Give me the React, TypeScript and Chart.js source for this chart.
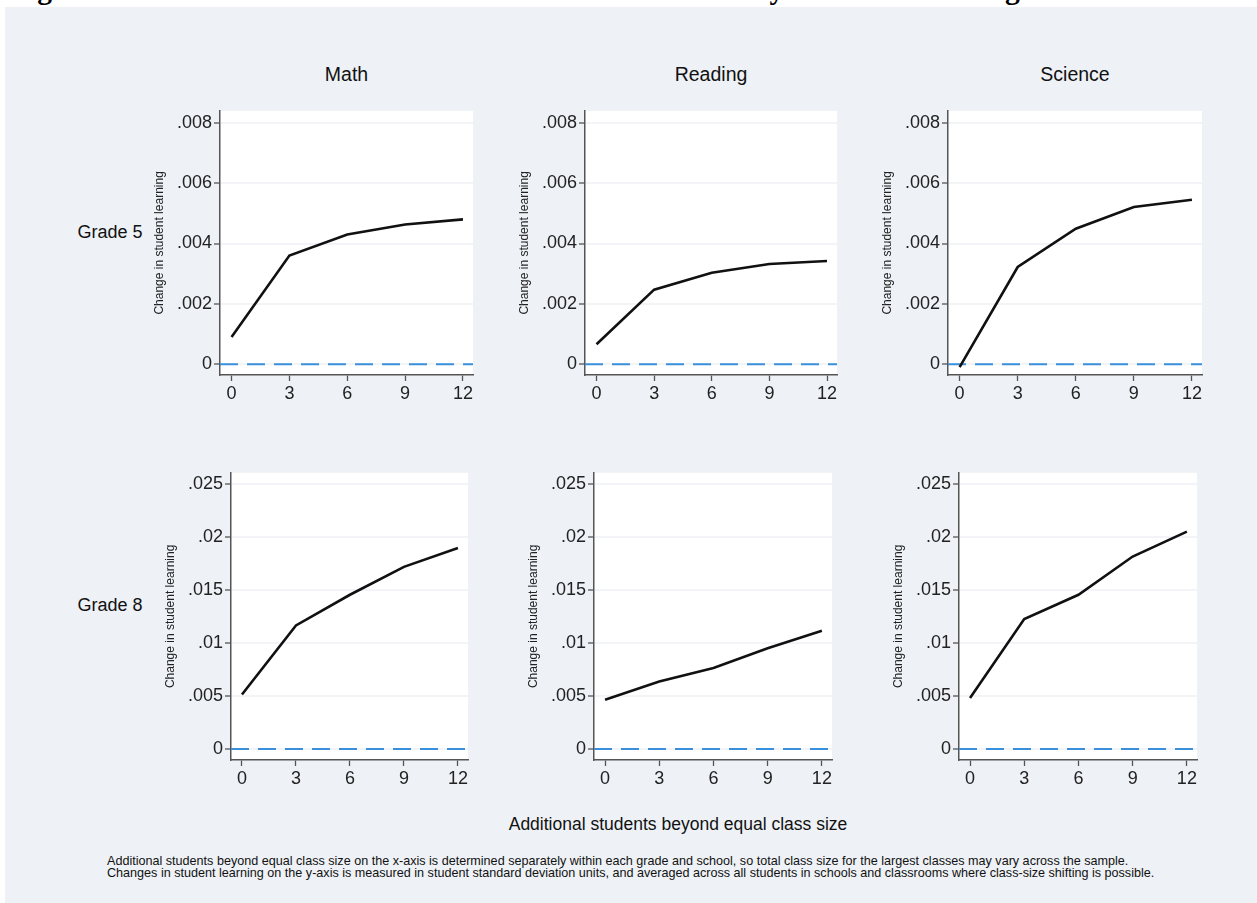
import React, { useEffect, useRef } from "react";
import { Chart, registerables } from "chart.js";

Chart.register(...registerables);

// ---------- data ----------
const xValues = [0, 3, 6, 9, 12];
const xTickValues = [0, 3, 6, 9, 12];

const grade5Math = [0.0009, 0.0036, 0.0043, 0.00463, 0.0048];
const grade5Reading = [0.00066, 0.00247, 0.00303, 0.00332, 0.00342];
const grade5Science = [-0.0001, 0.00322, 0.00449, 0.00521, 0.00545];

const grade8Math = [0.00514, 0.01165, 0.01454, 0.01717, 0.01895];
const grade8Reading = [0.00464, 0.00636, 0.00764, 0.00949, 0.01115];
const grade8Science = [0.00482, 0.01225, 0.01454, 0.01814, 0.02049];

const grade5YTicks = [0, 0.002, 0.004, 0.006, 0.008];
const grade8YTicks = [0, 0.005, 0.01, 0.015, 0.02, 0.025];

const subjects = ["Math", "Reading", "Science"];
const grades = ["Grade 5", "Grade 8"];

const yAxisTitle = "Change in student learning";
const xAxisTitle = "Additional students beyond equal class size";
const figureTitle =
  "Figure 1: More Students in Classes of Effective Teachers May Produce Learning Gains";
const noteLines = [
  "Additional students beyond equal class size on the x-axis is determined separately within each grade and school, so total class size for the largest classes may vary across the sample.",
  "Changes in student learning on the y-axis is measured in student standard deviation units, and averaged across all students in schools and classrooms where class-size shifting is possible.",
];

// ---------- layout ----------
const FONT = "'Liberation Sans', Arial, Helvetica, sans-serif";
const BG = "#eef1f6";
const Y_AXIS_W = 80;
const X_AXIS_H = 40;
const PAD_TOP = 12;
const PAD_RIGHT = 20;
const TICK_SIZE = 18;

type Geom = { axisX: number; right: number; top: number; bottom: number };

const row5Geom: Geom[] = [
  { axisX: 220, right: 473, top: 110, bottom: 375 },
  { axisX: 585, right: 837, top: 110, bottom: 375 },
  { axisX: 948, right: 1202, top: 110, bottom: 375 },
];
const row8Geom: Geom[] = [
  { axisX: 231, right: 468, top: 472, bottom: 760 },
  { axisX: 594, right: 832, top: 472, bottom: 760 },
  { axisX: 959, right: 1197, top: 472, bottom: 760 },
];

const fmtTick = (v: number) => {
  if (Math.abs(v) < 1e-12) return "0";
  const s = Number(v.toFixed(4)).toString();
  return s.replace(/^0\./, ".").replace(/^-0\./, "-.");
};

type PanelProps = {
  values: number[];
  yTicks: number[];
  yMin: number;
  yMax: number;
  xMin: number;
  xMax: number;
  geom: Geom;
};

function Panel({ values, yTicks, yMin, yMax, xMin, xMax, geom }: PanelProps) {
  const ref = useRef<HTMLCanvasElement | null>(null);
  const width = Y_AXIS_W + (geom.right - geom.axisX) + PAD_RIGHT;
  const height = PAD_TOP + (geom.bottom - geom.top) + X_AXIS_H;

  useEffect(() => {
    if (!ref.current) return;
    const bgPlugin = {
      id: "plotBg",
      beforeDraw(chart: any) {
        const { ctx, chartArea } = chart;
        ctx.save();
        ctx.fillStyle = "#ffffff";
        ctx.fillRect(
          chartArea.left,
          chartArea.top,
          chartArea.right - chartArea.left,
          chartArea.bottom - chartArea.top
        );
        ctx.restore();
      },
    };
    const chart = new Chart(ref.current, {
      type: "line",
      data: {
        datasets: [
          {
            data: xValues.map((x, i) => ({ x, y: values[i] })),
            borderColor: "#111111",
            borderWidth: 2.6,
            pointRadius: 0,
            tension: 0,
            fill: false,
          },
          {
            data: [
              { x: xMin, y: 0 },
              { x: xMax, y: 0 },
            ],
            borderColor: "#3a8fdc",
            borderWidth: 2,
            borderDash: [18, 9],
            pointRadius: 0,
            fill: false,
          },
        ],
      },
      options: {
        animation: false,
        responsive: false,
        maintainAspectRatio: false,
        events: [],
        layout: { padding: { top: PAD_TOP, right: PAD_RIGHT, left: 0, bottom: 0 } },
        plugins: { legend: { display: false }, tooltip: { enabled: false } },
        scales: {
          x: {
            type: "linear",
            min: xMin,
            max: xMax,
            bounds: "data",
            afterBuildTicks: (s: any) => {
              s.ticks = xTickValues.map((v) => ({ value: v }));
            },
            afterFit: (s: any) => {
              s.height = X_AXIS_H;
            },
            grid: {
              drawOnChartArea: false,
              drawTicks: true,
              tickLength: 6,
              tickColor: "#555555",
              tickWidth: 1.3,
            },
            border: { display: true, color: "#555555", width: 1.5 },
            ticks: {
              font: { family: FONT, size: TICK_SIZE },
              color: "#222222",
              padding: 2,
              maxRotation: 0,
              autoSkip: false,
              callback: (v: any) => String(v),
            },
          },
          y: {
            type: "linear",
            min: yMin,
            max: yMax,
            bounds: "data",
            afterBuildTicks: (s: any) => {
              s.ticks = yTicks.map((v) => ({ value: v }));
            },
            afterFit: (s: any) => {
              s.width = Y_AXIS_W;
            },
            grid: {
              drawOnChartArea: true,
              color: "#f2f4f8",
              lineWidth: 2,
              drawTicks: true,
              tickLength: 6,
              tickColor: "#555555",
              tickWidth: 1.3,
            },
            border: { display: true, color: "#555555", width: 1.5 },
            ticks: {
              font: { family: FONT, size: TICK_SIZE },
              color: "#222222",
              padding: 2,
              autoSkip: false,
              callback: (v: any) => fmtTick(Number(v)),
            },
            title: {
              display: true,
              text: yAxisTitle,
              font: { family: FONT, size: 12 },
              color: "#222222",
              padding: { top: 12.8, bottom: 0 },
            },
          },
        },
      },
      plugins: [bgPlugin],
    } as any);
    return () => chart.destroy();
  }, [values, yTicks, yMin, yMax, xMin, xMax]);

  return (
    <canvas
      ref={ref}
      width={width}
      height={height}
      style={{
        position: "absolute",
        left: geom.axisX - Y_AXIS_W,
        top: geom.top - PAD_TOP,
        width,
        height,
      }}
    />
  );
}

function Label({
  x,
  y,
  text,
  size,
}: {
  x: number;
  y: number;
  text: string;
  size: number;
}) {
  return (
    <div
      style={{
        position: "absolute",
        left: x,
        top: y,
        transform: "translate(-50%, -50%)",
        fontFamily: FONT,
        fontSize: size,
        lineHeight: 1,
        whiteSpace: "nowrap",
        color: "#111",
      }}
    >
      {text}
    </div>
  );
}

export default function App() {
  const row5 = [grade5Math, grade5Reading, grade5Science];
  const row8 = [grade8Math, grade8Reading, grade8Science];
  return (
    <div
      style={{
        position: "absolute",
        left: 0,
        top: 0,
        width: 1257,
        height: 903,
        overflow: "hidden",
        background: "#ffffff",
      }}
    >
      <div
        style={{
          position: "absolute",
          left: 5,
          top: 7,
          right: 0,
          bottom: 0,
          background: BG,
        }}
      />
      <div
        style={{
          position: "absolute",
          left: 11,
          top: -24.7,
          fontFamily: "'Liberation Serif', 'Times New Roman', serif",
          fontWeight: "bold",
          fontSize: 29.5,
          lineHeight: 1,
          whiteSpace: "nowrap",
          color: "#000",
        }}
      >
        {figureTitle}
      </div>

      {subjects.map((s, i) => (
        <Label
          key={s}
          x={(row5Geom[i].axisX + row5Geom[i].right) / 2}
          y={75}
          text={s}
          size={19.5}
        />
      ))}
      <Label x={110} y={232} text={grades[0]} size={18} />
      <Label x={110} y={605} text={grades[1]} size={18} />

      {row5.map((vals, i) => (
        <Panel
          key={"g5" + i}
          values={vals}
          yTicks={grade5YTicks}
          yMin={-0.00036}
          yMax={0.0084}
          xMin={-0.6}
          xMax={12.52}
          geom={row5Geom[i]}
        />
      ))}
      {row8.map((vals, i) => (
        <Panel
          key={"g8" + i}
          values={vals}
          yTicks={grade8YTicks}
          yMin={-0.00103}
          yMax={0.02603}
          xMin={-0.61}
          xMax={12.56}
          geom={row8Geom[i]}
        />
      ))}

      <Label x={678} y={825} text={xAxisTitle} size={17.5} />
      <div
        style={{
          position: "absolute",
          left: 107,
          top: 856,
          fontFamily: FONT,
          fontSize: 12.6,
          lineHeight: "11.7px",
          whiteSpace: "nowrap",
          color: "#111",
        }}
      >
        {noteLines.map((l) => (
          <div key={l}>{l}</div>
        ))}
      </div>
    </div>
  );
}
